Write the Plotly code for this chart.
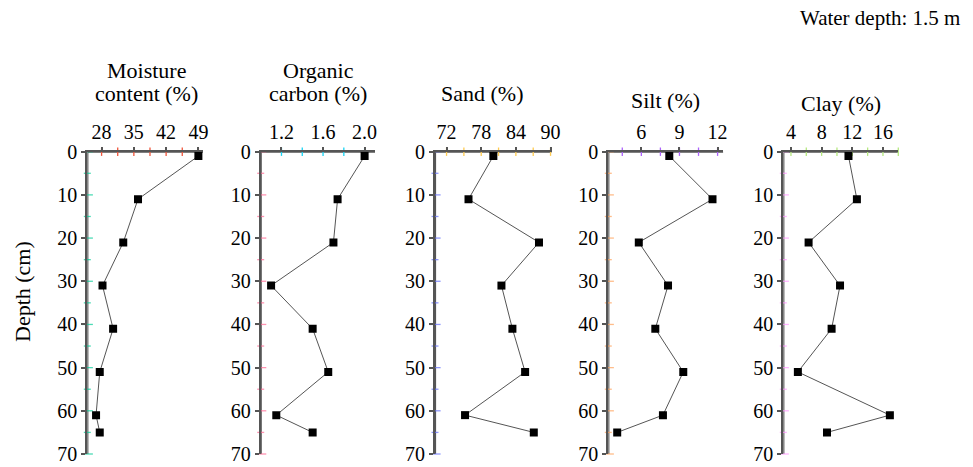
import numpy as np
import plotly.graph_objects as go

# Sampling depths (cm) of the sediment core
depth = [1, 11, 21, 31, 41, 51, 61, 65]

# Measured profiles
moisture = [49.0, 35.9, 32.7, 28.2, 30.5, 27.6, 26.8, 27.6]
organic_carbon = [2.00, 1.74, 1.70, 1.10, 1.50, 1.65, 1.15, 1.50]
sand = [80.1, 75.8, 88.0, 81.5, 83.4, 85.6, 75.2, 87.1]
silt = [8.2, 11.6, 5.8, 8.1, 7.1, 9.3, 7.7, 4.1]
clay = [11.5, 12.6, 6.3, 10.4, 9.3, 4.9, 16.9, 8.7]

series = [moisture, organic_carbon, sand, silt, clay]
title_lines = [["Moisture", "content (%)"], ["Organic", "carbon (%)"], ["Sand (%)"], ["Silt (%)"], ["Clay (%)"]]
# (first labelled tick, major step, minor step, label format)
x_ticks = [(28, 7, 3.5, "d"), (1.2, 0.4, 0.2, ".1f"), (72, 6, 3, "d"), (6, 3, 1.5, "d"), (4, 4, 2, "d")]
x_ranges = [[24.9, 50.0], [1.0, 2.1], [70.0, 90.2], [3.4, 12.45], [3.0, 18.0]]
depth_range = [70, 0]
depth_major, depth_minor = 10, 5

W, H = 973, 467
panel_px = [(87.3, 203), (260.7, 375), (435, 551.7), (608.3, 723.3), (783.3, 898.3)]
top_px, bottom_px = 151.7, 454.0
# centre x of each title, and y centre of each of its lines
title_pos = [(146, [70, 94]), (318, [70, 94]), (482, [94]), (665, [100]), (841, [103])]

FONT = "Liberation Serif, Times New Roman, serif"
AX = "#555555"


def steps_in(lo, hi, start, step):
    """All multiples of `step` offset from `start` that fall inside [lo, hi]."""
    k0 = int(np.ceil((lo - start) / step - 1e-9))
    k1 = int(np.floor((hi - start) / step + 1e-9))
    return [round(start + k * step, 6) for k in range(k0, k1 + 1)]


fig = go.Figure()
ydom = [1 - bottom_px / H, 1 - top_px / H]

layout_axes = {}
for i, vals in enumerate(series):
    n = "" if i == 0 else str(i + 1)
    xa_id, ya_id = "x" + n, "y" + n
    xr = x_ranges[i]
    t0, dt, mdt, fmt = x_ticks[i]

    # axis frame: left (depth) and top (value) edges of the panel
    fig.add_trace(go.Scatter(
        x=[xr[0], xr[0], xr[1]], y=[depth_range[0], depth_range[1], depth_range[1]],
        mode="lines", line=dict(color=AX, width=2.2), cliponaxis=False,
        hoverinfo="skip", xaxis=xa_id, yaxis=ya_id, showlegend=False,
    ))
    # tick marks along the top edge
    xt = steps_in(xr[0] + 1e-6, xr[1], t0, mdt)
    fig.add_trace(go.Scatter(
        x=xt, y=[depth_range[1]] * len(xt), mode="markers", cliponaxis=False,
        marker=dict(symbol="line-ns-open", size=6, line=dict(color=AX, width=1.3)),
        hoverinfo="skip", xaxis=xa_id, yaxis=ya_id, showlegend=False,
    ))
    # tick marks along the depth edge
    yt = steps_in(depth_range[1], depth_range[0], 0, depth_minor)
    fig.add_trace(go.Scatter(
        x=[xr[0]] * len(yt), y=yt, mode="markers", cliponaxis=False,
        marker=dict(symbol="line-ew-open",
                    size=[8 if v % depth_major == 0 else 5 for v in yt],
                    line=dict(color=AX, width=1.3)),
        hoverinfo="skip", xaxis=xa_id, yaxis=ya_id, showlegend=False,
    ))
    # the measured profile
    fig.add_trace(go.Scatter(
        x=vals, y=depth, mode="lines+markers",
        line=dict(color="#555555", width=1),
        marker=dict(symbol="square", size=8, color="black"),
        xaxis=xa_id, yaxis=ya_id, showlegend=False,
    ))

    L, R = panel_px[i]
    layout_axes["xaxis" + n] = dict(
        domain=[L / W, R / W], anchor=ya_id, side="top",
        range=xr, tick0=t0, dtick=dt, tickformat=fmt,
        showline=True, linecolor=AX, linewidth=2, showgrid=False, zeroline=False,
        ticks="outside", ticklen=3, tickcolor=AX, tickwidth=1.5,
        tickfont=dict(family=FONT, size=20, color="black"),
    )
    layout_axes["yaxis" + n] = dict(
        domain=ydom, anchor=xa_id, range=depth_range,
        tick0=0, dtick=depth_major,
        showline=True, linecolor=AX, linewidth=2, showgrid=False, zeroline=False,
        ticks="outside", ticklen=4, tickcolor=AX, tickwidth=1.5,
        tickfont=dict(family=FONT, size=20, color="black"),
    )
    cx, ys = title_pos[i]
    for line, cy in zip(title_lines[i], ys):
        fig.add_annotation(
            text=line, x=cx / W, y=1 - cy / H, xref="paper", yref="paper",
            xanchor="center", yanchor="middle", showarrow=False,
            font=dict(family=FONT, size=22, color="black"),
        )

fig.add_annotation(
    text="Depth (cm)", x=22 / W, y=1 - 292 / H, xref="paper", yref="paper",
    textangle=-90, showarrow=False, xanchor="center", yanchor="middle",
    font=dict(family=FONT, size=22, color="black"),
)
fig.add_annotation(
    text="Water depth: 1.5 m", x=962 / W, y=1 - 18 / H, xref="paper", yref="paper",
    xanchor="right", yanchor="middle", showarrow=False,
    font=dict(family=FONT, size=21, color="black"),
)

fig.update_layout(
    width=W, height=H, margin=dict(l=0, r=0, t=0, b=0, autoexpand=False),
    plot_bgcolor="white", **layout_axes,
)

fig.write_html("out.html")
